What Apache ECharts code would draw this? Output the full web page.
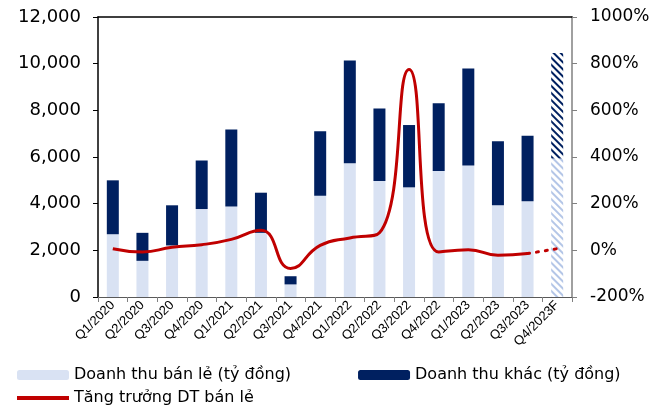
<!DOCTYPE html>
<html>
<head>
<meta charset="utf-8">
<script src="https://cdn.jsdelivr.net/npm/echarts@6/dist/echarts.min.js"></script>
<style>
  html, body { margin: 0; padding: 0; background: #fff; }
  #chart { width: 672px; height: 406px; }
</style>
</head>
<body>
<div id="chart"></div>
<script>
// quarters on the x axis
const quarters = ['Q1/2020', 'Q2/2020', 'Q3/2020', 'Q4/2020', 'Q1/2021', 'Q2/2021', 'Q3/2021', 'Q4/2021',
  'Q1/2022', 'Q2/2022', 'Q3/2022', 'Q4/2022', 'Q1/2023', 'Q2/2023', 'Q3/2023', 'Q4/2023F'];

// revenue, billion VND
const retailRevenue = [2690, 1550, 2210, 3770, 3880, 2750, 540, 4340, 5730, 4970, 4700, 5400, 5640, 3930, 4100, 5940];
const otherRevenue = [2310, 1200, 1720, 2080, 3300, 1720, 350, 2760, 4410, 3110, 2670, 2900, 4150, 2740, 2810, 4520];

// retail revenue growth, % (last one is the forecast)
const retailGrowth = [7, -7, 13, 24, 47, 86, -78, 21, 53, 75, 775, -7, 3, -21, -14, 7];

const leftTicks = { min: 0, max: 12000, interval: 2000 };
const rightTicks = { min: -200, max: 1000, interval: 200 };

const NAVY = '#002060';
const LIGHT = '#D9E2F3';
const RED = '#C00000';
const FONT = 'DejaVu Sans, sans-serif';
const lastIdx = quarters.length - 1;

// the forecast bar is drawn hatched
const hatch = (color) => ({
  color: '#fff',
  decal: {
    symbol: 'rect',
    symbolSize: 1,
    color: color,
    dashArrayX: [1, 0],
    dashArrayY: [1.5, 3],
    rotation: Math.PI / 4
  }
});

const retailData = retailRevenue.map((v, i) => i === lastIdx ? { value: v, itemStyle: hatch('#B4C6E7') } : v);
const otherData = otherRevenue.map((v, i) => i === lastIdx ? { value: v, itemStyle: hatch(NAVY) } : v);
const growthActual = retailGrowth.map((v, i) => i === lastIdx ? '-' : v);
const growthForecast = retailGrowth.map((v, i) => i >= lastIdx - 1 ? v : '-');

const myChart = echarts.init(document.getElementById('chart'));

const option = {
  animation: false,
  textStyle: { fontFamily: FONT },
  grid: { left: 98, right: 100, top: 17, bottom: 109 },
  legend: [
    {
      data: ['Doanh thu bán lẻ (tỷ đồng)', 'Doanh thu khác (tỷ đồng)'],
      left: 12, top: 362, itemWidth: 52, itemHeight: 10, itemGap: 67,
      textStyle: { fontSize: 16, color: '#000', fontFamily: FONT }
    },
    {
      data: [{ name: 'Tăng trưởng DT bán lẻ', icon: 'rect' }],
      left: 12, top: 385, itemWidth: 52, itemHeight: 4,
      textStyle: { fontSize: 16, color: '#000', fontFamily: FONT }
    }
  ],
  xAxis: [
    {
      type: 'category',
      data: quarters,
      axisLine: { onZero: false, lineStyle: { color: '#595959', width: 1 } },
      axisTick: { show: true, length: 5, lineStyle: { color: '#808080' } },
      axisLabel: { rotate: 45, fontSize: 13, color: '#000', margin: 6, interval: 0, fontFamily: 'Liberation Sans, Arial, sans-serif' }
    },
    {
      // top border of the plot
      type: 'category',
      data: quarters,
      position: 'top',
      axisLine: { onZero: false, lineStyle: { color: '#000', width: 1.5 } },
      axisTick: { show: false },
      axisLabel: { show: false }
    }
  ],
  yAxis: [
    {
      type: 'value',
      ...leftTicks,
      axisLine: { show: true, lineStyle: { color: '#000', width: 1.5 } },
      axisTick: { show: true, length: 5, lineStyle: { color: '#000' } },
      axisLabel: {
        fontSize: 18, color: '#000', margin: 17,
        formatter: (v) => v.toLocaleString('en-US')
      },
      splitLine: { show: false }
    },
    {
      type: 'value',
      ...rightTicks,
      axisLine: { show: true, lineStyle: { color: '#808080', width: 1.5 } },
      axisTick: { show: true, length: 5, lineStyle: { color: '#808080' } },
      axisLabel: { fontSize: 17, color: '#000', margin: 18, formatter: (v) => v + '%' },
      splitLine: { show: false }
    }
  ],
  series: [
    {
      name: 'Doanh thu bán lẻ (tỷ đồng)',
      type: 'bar',
      stack: 'rev',
      barWidth: 12,
      itemStyle: { color: LIGHT },
      data: retailData
    },
    {
      name: 'Doanh thu khác (tỷ đồng)',
      type: 'bar',
      stack: 'rev',
      barWidth: 12,
      itemStyle: { color: NAVY },
      data: otherData
    },
    {
      name: 'Tăng trưởng DT bán lẻ',
      type: 'line',
      yAxisIndex: 1,
      smooth: 0.5,
      symbol: 'none',
      itemStyle: { color: RED },
      lineStyle: { color: RED, width: 3 },
      data: growthActual,
      z: 5
    },
    {
      name: 'forecast',
      type: 'line',
      yAxisIndex: 1,
      symbol: 'none',
      lineStyle: { color: RED, width: 3, type: [2, 7], cap: 'round' },
      data: growthForecast,
      z: 5
    }
  ]
};

myChart.setOption(option);
window.addEventListener('resize', () => myChart.resize());
</script>
</body>
</html>
